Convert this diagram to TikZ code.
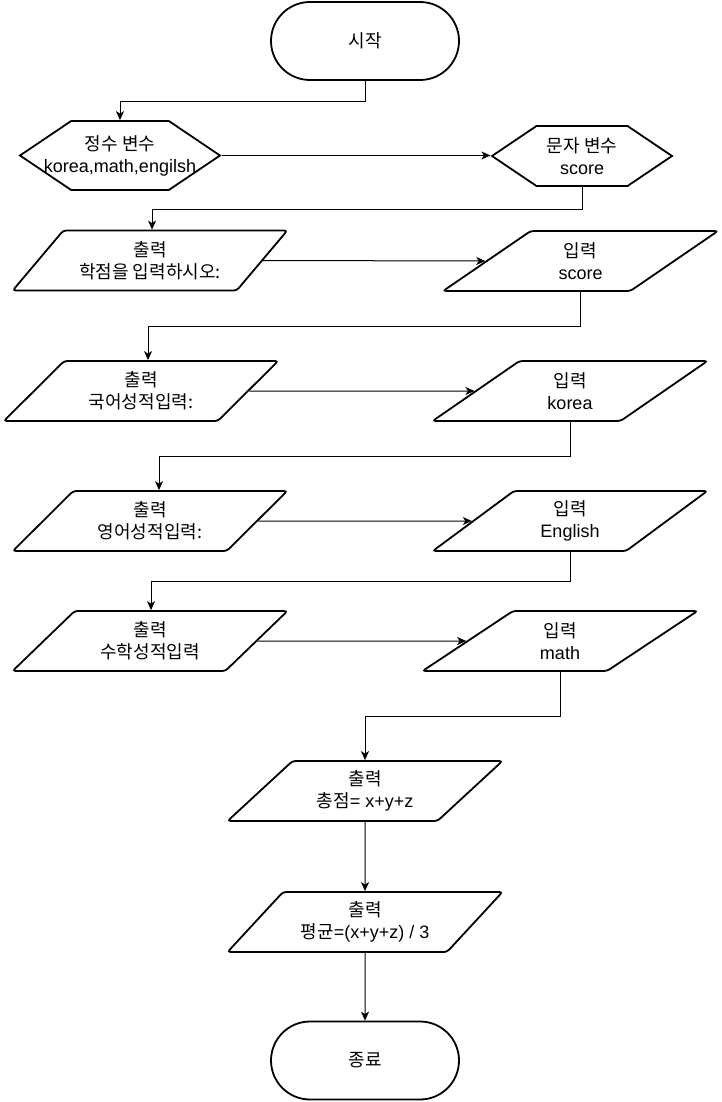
\documentclass[tikz,border=0pt]{standalone}
\usepackage{fontspec}
\setmainfont{Liberation Sans}
\newfontfamily\kr{Noto Sans CJK KR}
\usetikzlibrary{shapes.geometric,shapes.misc,shapes.symbols,arrows.meta}

\begin{document}
\begin{tikzpicture}[x=1pt,y=-1pt,
  every node/.style={font=\fontsize{18}{22}\selectfont,align=center,inner sep=1pt},
  terminal/.style={draw,line width=1.8pt,rounded rectangle,minimum width=190pt,minimum height=78pt},
  hexa/.style={draw,line width=1.8pt,signal,signal to=west and east,signal pointer angle=68},
  iobox/.style={draw,line width=1.8pt,trapezium,trapezium left angle=44,trapezium right angle=136,
    trapezium stretches=true,minimum width=275pt,minimum height=60pt,rounded corners=3pt},
  arr/.style={line width=1pt,-{Stealth[length=9pt,width=8pt,inset=2.5pt]}}]
\useasboundingbox (0,0) rectangle (722,1102);
% start and declarations
\node[terminal] (start) at (365,41) {\kr 시작};
\node[hexa,minimum width=200pt,minimum height=69pt] (hexint) at (120,155.5) {{\kr 정수 변수}\\\makebox[90pt]{korea,math,engilsh}};
\node[hexa,minimum width=180pt,minimum height=60pt] (hexstr) at (582,156) {{\kr 문자 변수}\\score};
% output / input pairs
\node[iobox] (outscore) at (150,260.5) {{\kr 출력}\\{\kr 학점을 입력하시오:}};
\node[iobox] (inscore) at (580.5,261) {{\kr 입력}\\score};
\node[iobox] (outkor) at (141,391) {{\kr 출력}\\{\kr 국어성적입력:}};
\node[iobox] (inkor) at (570,391) {{\kr 입력}\\korea};
\node[iobox] (outeng) at (150,521) {{\kr 출력}\\{\kr 영어성적입력:}};
\node[iobox] (ineng) at (570,521) {{\kr 입력}\\English};
\node[iobox] (outmath) at (150,641) {{\kr 출력}\\{\kr 수학성적입력}};
\node[iobox] (inmath) at (560,641) {{\kr 입력}\\math};
% results
\node[iobox] (outsum) at (365,791) {{\kr 출력}\\{\kr 총점}= x+y+z};
\node[iobox] (outavg) at (365,922) {{\kr 출력}\\{\kr 평균}=(x+y+z) / 3};
\node[terminal] (stop) at (365,1060.5) {\kr 종료};
% connectors
\draw[arr] (start.south) -- ++(0,21) -| (hexint.north);
\draw[arr] (hexint.east) -- (hexint.east -| hexstr.west);
\draw[arr] (hexstr.south) -- ++(0,23) -| ([xshift=2pt]outscore.north);
\draw[arr] (outscore.east) -- (inscore.west);
\draw[arr] (inscore.south) -- ++(0,35) -| ([xshift=7pt]outkor.north);
\draw[arr] (outkor.east) -- (inkor.west);
\draw[arr] (inkor.south) -- ++(0,35) -| ([xshift=9pt]outeng.north);
\draw[arr] (outeng.east) -- (ineng.west);
\draw[arr] (ineng.south) -- ++(0,30) -| ([xshift=1pt]outmath.north);
\draw[arr] (outmath.east) -- (inmath.west);
\draw[arr] (inmath.south) -- ++(0,45) -| (outsum.north);
\draw[arr] (outsum.south) -- (outavg.north);
\draw[arr] (outavg.south) -- (stop.north);
\end{tikzpicture}
\end{document}
